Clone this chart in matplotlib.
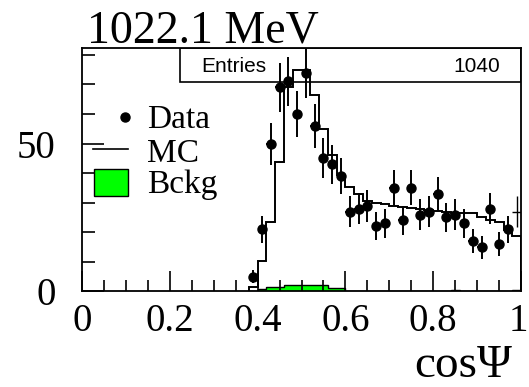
import numpy as np
import matplotlib
matplotlib.use("Agg")
import matplotlib.pyplot as plt
from matplotlib.patches import Rectangle
from matplotlib.ticker import MultipleLocator
from matplotlib.transforms import ScaledTranslation

# cos(psi) bins of width 0.02, from 0.38 up to 1.0
bin_edges = np.round(np.arange(0.38, 1.0001, 0.02), 2)
bin_centers = (bin_edges[:-1] + bin_edges[1:]) / 2
half_width = [0.01] * len(bin_centers)

data_counts = [5, 21, 50, 69, 71, 60, 74, 56, 45, 43, 39, 27, 28, 29, 22, 23,
               35, 24, 35, 26, 27, 33, 25, 26, 23, 17, 15, 28, 16, 21, 27]
data_err = [2.2, 4.6, 7.1, 8.3, 8.4, 7.7, 8.6, 7.5, 6.7, 6.6, 6.2, 5.2, 5.3,
            5.4, 4.7, 4.8, 5.9, 4.9, 5.9, 5.1, 5.2, 5.7, 5.0, 5.1, 4.8, 4.1,
            3.9, 5.3, 4.0, 4.6, 5.2]
mc_counts = [1.5, 10.3, 23.6, 43.7, 69.0, 75.0, 75.0, 66.5, 55.0, 46.0, 39.5,
             35.2, 33.0, 30.7, 29.8, 29.4, 29.0, 28.6, 28.2, 27.8, 27.4, 27.1,
             26.8, 26.6, 26.5, 26.5, 25.3, 24.2, 23.6, 20.8, 18.6]
bckg_counts = [0.0, 0.8, 1.5, 1.5, 2.3, 2.3, 2.3, 2.3, 2.1, 1.2, 1.2, 0.0,
               0.0, 0.0, 0.0, 0.0, 0.0, 0.0, 0.0, 0.0, 0.0, 0.0, 0.0, 0.4,
               0.0, 0.0, 0.0, 0.0, 0.0, 0.0, 0.6]
n_entries = 1040

serif = "Liberation Serif"

fig = plt.figure(figsize=(5.29, 3.87), dpi=100)
ax = fig.add_axes([0.155, 0.247, 0.830, 0.629])

# background, MC and data
ax.stairs(bckg_counts, bin_edges, fill=True, facecolor="#00ff00",
          edgecolor="none", zorder=1)
ax.stairs(bckg_counts, bin_edges, color="black", linewidth=1.0, zorder=1.1)
ax.stairs(mc_counts, bin_edges, color="black", linewidth=1.4, zorder=2)
ax.errorbar(bin_centers[:-1], data_counts[:-1], yerr=data_err[:-1],
            xerr=half_width[:-1], fmt="o", color="black", markersize=6.5,
            elinewidth=1.4, capsize=0, zorder=3)
ax.errorbar(bin_centers[-1:], data_counts[-1:], yerr=data_err[-1:],
            xerr=half_width[-1:], fmt="none", ecolor="black",
            elinewidth=1.0, capsize=0, zorder=3)

ax.set_xlim(0, 1)
ax.set_ylim(0, 82.3)

for s in ax.spines.values():
    s.set_linewidth(1.3)

ax.xaxis.set_major_locator(MultipleLocator(0.2))
ax.xaxis.set_minor_locator(MultipleLocator(0.05))
ax.yaxis.set_major_locator(MultipleLocator(50))
ax.yaxis.set_minor_locator(MultipleLocator(10))
ax.set_xticks([0, 0.2, 0.4, 0.6, 0.8, 1.0], ["0", "0.2", "0.4", "0.6", "0.8", "1"])
ax.tick_params(axis="x", which="major", direction="in", length=14.5, width=1.2,
               pad=8.5, labelsize=28)
ax.tick_params(axis="x", which="minor", direction="in", length=8, width=1.2)
ax.tick_params(axis="y", which="major", direction="in", length=16, width=1.2,
               pad=19, labelsize=28)
ax.tick_params(axis="y", which="minor", direction="in", length=9.5, width=1.2)
for lab in ax.get_xticklabels() + ax.get_yticklabels():
    lab.set_fontfamily(serif)
# keep the "1" inside the canvas
last = ax.get_xticklabels()[-1]
last.set_transform(last.get_transform() + ScaledTranslation(-3 / 100, 0, fig.dpi_scale_trans))

# stats box
ax.add_patch(Rectangle((0.223, 0.86), 0.777, 0.14, transform=ax.transAxes,
                       fill=False, edgecolor="black", linewidth=1.2, zorder=1.5))
ax.text(0.271, 0.925, "Entries", transform=ax.transAxes, fontsize=15,
        family="Liberation Sans", va="center", ha="left")
ax.text(0.952, 0.925, str(n_entries), transform=ax.transAxes, fontsize=15,
        family="Liberation Sans", va="center", ha="right")

# legend drawn by hand, ROOT style
ax.plot([0.098], [0.717], "o", color="black", markersize=6.5,
        transform=ax.transAxes, clip_on=False)
ax.plot([0.025, 0.105], [0.585, 0.585], color="black", linewidth=1.2,
        transform=ax.transAxes)
ax.add_patch(Rectangle((0.027, 0.392), 0.078, 0.111, transform=ax.transAxes,
                       facecolor="#00ff00", edgecolor="black", linewidth=1.0))
for y, label in [(0.671, "Data"), (0.532, "MC"), (0.405, "Bckg")]:
    ax.text(0.148, y, label, transform=ax.transAxes, fontsize=24,
            family=serif, va="baseline", ha="left")

fig.text(0.164, 0.889, "1022.1 MeV", fontsize=33, family=serif,
         va="baseline", ha="left")
fig.text(0.968, 0.026, "cos\u03a8", fontsize=34, family=serif,
         va="baseline", ha="right")

fig.savefig("out.png", dpi=100)
